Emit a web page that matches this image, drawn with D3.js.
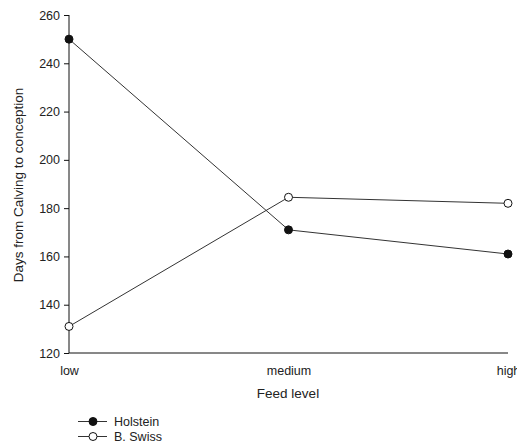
<!DOCTYPE html>
<html><head><meta charset="utf-8">
<script src="https://cdn.jsdelivr.net/npm/d3@7"></script>
<style>body{margin:0;background:#fff}svg{display:block}text{font-family:"Liberation Sans",Arial,sans-serif;fill:#222}</style>
</head><body><svg id="c" width="517" height="444"></svg>
<script>
const categories = ["low", "medium", "high"];
const holstein = [250, 171, 161];
const bswiss = [131, 184.5, 182];
const yTicks = [120, 140, 160, 180, 200, 220, 240, 260];
const seriesNames = ["Holstein", "B. Swiss"];

const svg = d3.select("#c");
const x = d3.scalePoint().domain(categories).range([69, 508]);
const y = d3.scaleLinear().domain([120, 260]).range([353, 15]);

// y axis
const ya = svg.append("g").attr("transform", "translate(69,0)")
  .call(d3.axisLeft(y).tickValues(yTicks).tickSize(5).tickPadding(4).tickFormat(d3.format("d")));
ya.selectAll("text").style("font-size", "12.5px").attr("fill", "#222");
ya.selectAll("line,path").attr("stroke", "#111");
ya.select(".domain").attr("d", "M0,15V353");

// x axis
const xa = svg.append("g").attr("transform", "translate(0,353)")
  .call(d3.axisBottom(x).tickSize(0).tickPadding(13));
xa.selectAll("text").style("font-size", "12.5px").attr("fill", "#222");
xa.select(".domain").attr("stroke", "#111").attr("d", "M69,0H508");

// titles
svg.append("text").attr("transform", "translate(23,185) rotate(-90)").attr("text-anchor", "middle")
  .style("font-size", "13.5px").text("Days from Calving to conception");
svg.append("text").attr("x", 288).attr("y", 398).attr("text-anchor", "middle")
  .style("font-size", "13.5px").text("Feed level");

const line = d3.line().x((d, i) => x(categories[i])).y(d => y(d));
const data = [{name: seriesNames[0], vals: holstein, fill: "#111"}, {name: seriesNames[1], vals: bswiss, fill: "#fff"}];
data.forEach(s => {
  svg.append("path").attr("d", line(s.vals)).attr("fill", "none").attr("stroke", "#333").attr("stroke-width", 1);
});
data.forEach(s => {
  svg.selectAll(null).data(s.vals).enter().append("circle")
    .attr("cx", (d, i) => x(categories[i])).attr("cy", d => y(d)).attr("r", 4)
    .attr("fill", s.fill).attr("stroke", "#111").attr("stroke-width", 1);
});

// legend
data.forEach((s, i) => {
  const ly = 421.5 + i * 15;
  svg.append("line").attr("x1", 78).attr("x2", 107).attr("y1", ly).attr("y2", ly).attr("stroke", "#333");
  svg.append("circle").attr("cx", 93).attr("cy", ly).attr("r", 4).attr("fill", s.fill).attr("stroke", "#111");
  svg.append("text").attr("x", 114).attr("y", ly + 4.5).style("font-size", "12.5px").text(s.name);
});
</script></body></html>
